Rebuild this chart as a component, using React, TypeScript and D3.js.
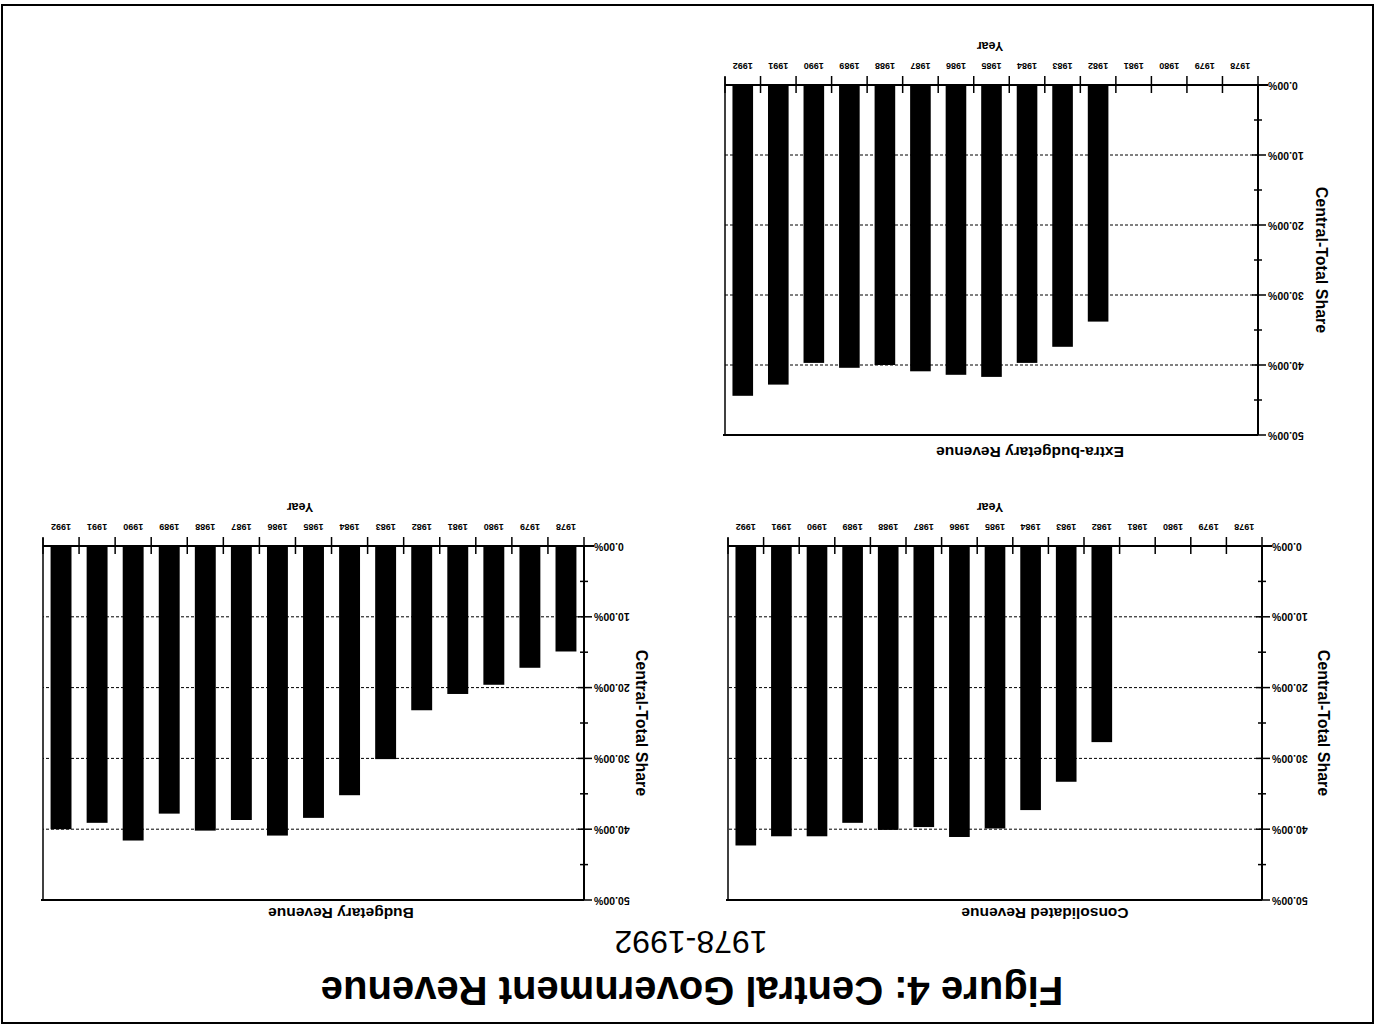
import React from 'react';
import * as d3 from 'd3';

const W = 1377;
const H = 1028;

const years = ['1978', '1979', '1980', '1981', '1982', '1983', '1984', '1985', '1986', '1987', '1988', '1989', '1990', '1991', '1992'];
const consolidatedShare: (number | null)[] = [null, null, null, null, 27.7, 33.3, 37.3, 39.9, 41.1, 39.7, 40.1, 39.1, 41.0, 41.0, 42.3];
const budgetaryShare: (number | null)[] = [14.9, 17.2, 19.6, 20.9, 23.2, 30.1, 35.2, 38.4, 40.9, 38.7, 40.2, 37.8, 41.6, 39.1, 40.0];
const extraBudgetaryShare: (number | null)[] = [null, null, null, null, 33.8, 37.4, 39.7, 41.7, 41.4, 40.9, 40.0, 40.4, 39.7, 42.8, 44.4];
const yTicks = [0, 10, 20, 30, 40, 50];
const yMinorTicks = [5, 15, 25, 35, 45];

const FONT = "'Liberation Sans', Arial, Helvetica, sans-serif";

type PanelProps = {
  title: string;
  values: (number | null)[];
  left: number;
  right: number;
  top: number;
  bottom: number;
  titleX: number;
  titleY: number;
  yearX: number;
  yTitleX: number;
};

function Panel({ title, values, left, right, top, bottom, titleX, titleY, yearX, yTitleX }: PanelProps) {
  const x = d3.scaleBand<string>().domain(years).range([left, right]).paddingInner(0.42).paddingOuter(0.21);
  const y = d3.scaleLinear().domain([0, 50]).range([bottom, top]);
  const step = x.step();
  const x0 = left + (right - left - step * years.length) / 2;
  const boundaries = d3.range(years.length + 1).map((k) => x0 + k * step);
  const fmt = (v: number) => v.toFixed(2) + '%';
  return (
    <g>
      {yTicks.filter((t) => t > 0 && t < 50).map((t) => (
        <line key={'g' + t} x1={left} x2={right} y1={y(t)} y2={y(t)} stroke="#000" strokeWidth={1} strokeDasharray="3,2" />
      ))}
      <line x1={left} x2={right + 2} y1={y(50)} y2={y(50)} stroke="#000" strokeWidth={2} />
      <line x1={right} x2={right} y1={y(50)} y2={y(0) + 8} stroke="#000" strokeWidth={1.5} />
      {years.map((yr, i) => {
        const v = values[i];
        if (v == null) return null;
        return <rect key={yr} x={x(yr)} width={x.bandwidth()} y={y(v)} height={y(0) - y(v)} fill="#000" />;
      })}
      <line x1={left - 10} x2={right} y1={y(0)} y2={y(0)} stroke="#000" strokeWidth={2} />
      {boundaries.map((bx, k) => (
        <line key={'xt' + k} x1={bx} x2={bx} y1={y(0) - 8} y2={y(0) + 9} stroke="#000" strokeWidth={1.5} />
      ))}
      {years.map((yr) => (
        <text key={'xl' + yr} x={(x(yr) as number) + x.bandwidth() / 2} y={y(0) + 22} textAnchor="middle" fontSize={9} fontWeight="bold" fontFamily={FONT}>{yr}</text>
      ))}
      <text x={yearX} y={y(0) + 43} textAnchor="middle" fontSize={12.5} fontWeight="bold" fontFamily={FONT}>Year</text>
      <line x1={left} x2={left} y1={y(50)} y2={y(0)} stroke="#000" strokeWidth={2} />
      {yTicks.map((t) => (
        <g key={'yt' + t}>
          <line x1={left - 8} x2={left + 6} y1={y(t)} y2={y(t)} stroke="#000" strokeWidth={1.5} />
          <text x={left - 10} y={y(t) + 3.5} textAnchor="end" fontSize={10.5} fontWeight="bold" fontFamily={FONT}>{fmt(t)}</text>
        </g>
      ))}
      {yMinorTicks.map((t) => (
        <line key={'ym' + t} x1={left - 4} x2={left + 4} y1={y(t)} y2={y(t)} stroke="#000" strokeWidth={1.5} />
      ))}
      <text transform={`translate(${yTitleX},${(y(0) + y(50)) / 2}) rotate(-90)`} textAnchor="middle" fontSize={16} fontWeight="bold" fontFamily={FONT} dy="0.35em">Central-Total Share</text>
      <text x={titleX} y={titleY} textAnchor="middle" fontSize={15.5} fontWeight="bold" fontFamily={FONT}>{title}</text>
    </g>
  );
}

export default function App() {
  return (
    <svg width={W} height={H} style={{ position: 'absolute', left: 0, top: 0, background: '#fff' }}>
      <rect x={0} y={0} width={W} height={H} fill="#fff" />
      <g transform={`rotate(180, ${W / 2}, ${H / 2})`}>
        <rect x={4} y={5} width={1371} height={1018} fill="none" stroke="#000" strokeWidth={2} />
        <text x={685} y={51} textAnchor="middle" fontSize={40} fontWeight="bold" fontFamily={FONT}>Figure 4: Central Government Revenue</text>
        <text x={686} y={97} textAnchor="middle" fontSize={32} fontFamily={FONT}>1978-1992</text>
        <Panel title="Consolidated Revenue" values={consolidatedShare} left={115} right={649} top={128} bottom={482} titleX={332} titleY={120} yearX={387} yTitleX={53} />
        <Panel title="Budgetary Revenue" values={budgetaryShare} left={793} right={1334} top={128} bottom={482} titleX={1036} titleY={120} yearX={1077} yTitleX={735} />
        <Panel title="Extra-budgetary Revenue" values={extraBudgetaryShare} left={119} right={652} top={593} bottom={943} titleX={347} titleY={581} yearX={387} yTitleX={55} />
      </g>
    </svg>
  );
}
